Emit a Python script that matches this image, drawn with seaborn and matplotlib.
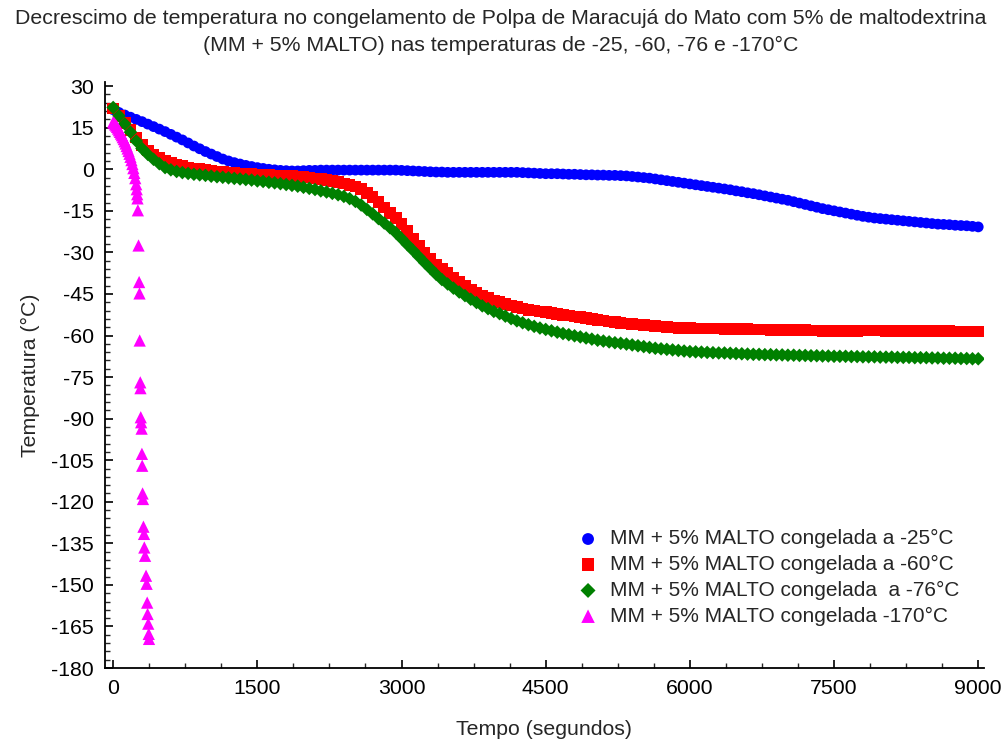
import numpy as np
import pandas as pd
import matplotlib
matplotlib.use("Agg")
import matplotlib.pyplot as plt
from matplotlib.ticker import MultipleLocator
import seaborn as sns

# ---------------- data ----------------
tempo = list(range(0, 9001, 60))

temp_25 = [21.5, 20.5, 19.6, 18.8, 18.0, 17.2, 16.3, 15.4, 14.5, 13.6,
           12.6, 11.6, 10.6, 9.5, 8.4, 7.4, 6.4, 5.5, 4.6, 3.7,
           3.0, 2.4, 1.9, 1.4, 1.0, 0.6, 0.3, 0.0, -0.2, -0.4,
           -0.5, -0.6, -0.6, -0.5, -0.4, -0.4, -0.3, -0.3, -0.3, -0.3,
           -0.3, -0.3, -0.3, -0.3, -0.3, -0.3, -0.3, -0.3, -0.3, -0.3,
           -0.4, -0.5, -0.6, -0.7, -0.8, -0.9, -1.0, -1.0, -1.1, -1.1,
           -1.1, -1.1, -1.1, -1.1, -1.1, -1.1, -1.1, -1.1, -1.1, -1.1,
           -1.1, -1.2, -1.3, -1.4, -1.5, -1.6, -1.6, -1.6, -1.7, -1.8,
           -1.8, -1.9, -2.0, -2.0, -2.1, -2.1, -2.2, -2.2, -2.3, -2.4,
           -2.6, -2.8, -3.0, -3.2, -3.5, -3.8, -4.1, -4.4, -4.7, -5.0,
           -5.3, -5.6, -5.9, -6.2, -6.5, -6.8, -7.1, -7.4, -7.8, -8.1,
           -8.5, -8.8, -9.2, -9.6, -10.0, -10.4, -10.8, -11.2, -11.7, -12.2,
           -12.7, -13.2, -13.7, -14.2, -14.6, -15.0, -15.4, -15.8, -16.2, -16.6,
           -17.0, -17.3, -17.6, -17.8, -18.0, -18.2, -18.4, -18.6, -18.8, -19.0,
           -19.2, -19.4, -19.6, -19.8, -19.9, -20.0, -20.2, -20.3, -20.4, -20.6,
           -20.8]

temp_60 = [21.9, 19.2, 16.6, 14.1, 11.5, 8.7, 6.8, 5.3, 4.0, 3.0,
           2.2, 1.6, 1.1, 0.7, 0.3, 0.0, -0.3, -0.6, -0.8, -1.0,
           -1.2, -1.3, -1.5, -1.6, -1.8, -1.9, -2.0, -2.1, -2.2, -2.3,
           -2.4, -2.5, -2.7, -2.8, -3.0, -3.3, -3.6, -3.9, -4.3, -4.7,
           -5.1, -5.6, -6.2, -7.2, -8.5, -10.1, -11.9, -13.8, -15.7, -17.6,
           -19.8, -22.3, -25.0, -27.6, -30.0, -32.2, -34.3, -36.0, -37.5, -39.0,
           -40.6, -42.1, -43.4, -44.6, -45.6, -46.5, -47.3, -48.0, -48.6, -49.2,
           -49.8, -50.3, -50.7, -51.0, -51.3, -51.6, -51.9, -52.2, -52.5, -52.8,
           -53.1, -53.4, -53.7, -54.0, -54.3, -54.6, -54.9, -55.2, -55.4, -55.6,
           -55.8, -56.0, -56.2, -56.4, -56.6, -56.8, -57.0, -57.1, -57.2, -57.3,
           -57.3, -57.4, -57.4, -57.5, -57.5, -57.5, -57.6, -57.6, -57.6, -57.7,
           -57.7, -57.8, -57.8, -57.8, -57.9, -57.9, -57.9, -58.0, -58.0, -58.1,
           -58.1, -58.2, -58.2, -58.3, -58.3, -58.3, -58.3, -58.3, -58.3, -58.3,
           -58.2, -58.2, -58.2, -58.2, -58.3, -58.3, -58.3, -58.3, -58.3, -58.3,
           -58.4, -58.4, -58.4, -58.4, -58.4, -58.4, -58.5, -58.5, -58.5, -58.5,
           -58.6]

temp_76 = [22.3, 19.3, 16.4, 13.4, 10.2, 7.5, 5.4, 3.6, 2.0, 0.6,
           -0.2, -0.8, -1.2, -1.5, -1.8, -2.0, -2.2, -2.5, -2.7, -2.9,
           -3.1, -3.3, -3.5, -3.7, -3.9, -4.2, -4.4, -4.7, -4.9, -5.2,
           -5.5, -5.8, -6.1, -6.5, -6.9, -7.3, -7.8, -8.2, -8.7, -9.2,
           -9.8, -10.6, -11.6, -12.9, -14.5, -16.1, -17.8, -19.4, -21.1, -22.9,
           -25.0, -27.2, -29.3, -31.5, -33.7, -35.8, -37.9, -39.8, -41.4, -42.9,
           -44.3, -45.6, -46.9, -48.1, -49.3, -50.3, -51.3, -52.1, -53.0, -53.9,
           -54.7, -55.4, -56.1, -56.7, -57.3, -57.8, -58.3, -58.8, -59.3, -59.7,
           -60.1, -60.5, -60.9, -61.3, -61.7, -62.0, -62.3, -62.6, -62.8, -63.1,
           -63.4, -63.7, -64.0, -64.3, -64.6, -64.8, -65.0, -65.2, -65.4, -65.6,
           -65.8, -65.9, -66.0, -66.1, -66.2, -66.3, -66.3, -66.4, -66.5, -66.6,
           -66.7, -66.8, -66.8, -66.9, -66.9, -67.0, -67.0, -67.1, -67.1, -67.2,
           -67.2, -67.3, -67.3, -67.4, -67.4, -67.5, -67.5, -67.5, -67.6, -67.6,
           -67.7, -67.7, -67.7, -67.8, -67.8, -67.8, -67.9, -67.9, -67.9, -68.0,
           -68.0, -68.0, -68.1, -68.1, -68.2, -68.2, -68.2, -68.3, -68.3, -68.4,
           -68.4]

tempo_170 = [0, 10, 20, 30, 40, 50, 60, 70, 80, 90,
             100, 110, 120, 130, 140, 150, 160, 170, 180, 190,
             200, 210, 220, 230, 240, 245, 250, 253,
             257, 264, 270, 274, 276, 282, 284, 287, 291, 296,
             299, 302, 306, 310, 315, 321, 324, 332, 342, 348,
             354, 358, 365, 370, 373]
temp_170 = [17.0, 16.7, 16.2, 15.8, 15.3, 14.7, 14.1, 13.5, 12.9, 12.3,
            11.6, 10.9, 10.1, 9.3, 8.4, 7.5, 6.6, 5.6, 4.5, 3.3,
            1.9, 0.4, -1.3, -3.2, -5.4, -7.2, -9.0, -10.5,
            -14.8, -27.5, -40.7, -44.8, -61.8, -76.9, -79.0, -89.5, -91.3, -93.6,
            -102.7, -107.0, -117.0, -119.0, -129.0, -131.6, -136.5, -139.5, -146.7, -149.6,
            -156.4, -160.5, -164.0, -167.7, -169.5]

labels = ["MM + 5% MALTO congelada a -25°C",
          "MM + 5% MALTO congelada a -60°C",
          "MM + 5% MALTO congelada  a -76°C",
          "MM + 5% MALTO congelada -170°C"]
colors = ["#0000FF", "#FF0000", "#008000", "#FF00FF"]
markers = ["o", "s", "D", "^"]
x_ticks = [0, 1500, 3000, 4500, 6000, 7500, 9000]
y_ticks = list(range(-180, 31, 15))

# ---------------- plot ----------------
sns.set_style("ticks")
plt.rcParams["font.family"] = ["Liberation Sans", "DejaVu Sans"]
plt.rcParams["axes.unicode_minus"] = False

FS = 15.3
fig = plt.figure(figsize=(10.01, 7.42), dpi=100)
ax = fig.add_axes([105 / 1001, 1 - 668 / 742, (984 - 105) / 1001, (668 - 82) / 742])

series = [(tempo, temp_25), (tempo, temp_60), (tempo, temp_76), (tempo_170, temp_170)]
sizes = [60, 70, 48, 78]
for (tx, ty), lab, col, mk, sz in zip(series, labels, colors, markers, sizes):
    df = pd.DataFrame({"Tempo": tx, "Temp": ty})
    sns.scatterplot(data=df, x="Tempo", y="Temp", ax=ax, color=col, marker=mk,
                    s=sz, edgecolor="none", linewidth=0, label=lab, zorder=3)

ax.set_xlim(-85, 9060)
ax.set_ylim(-180, 31.5)
ax.set_xticks(x_ticks)
ax.set_yticks(y_ticks)
ax.xaxis.set_minor_locator(MultipleLocator(375))
ax.yaxis.set_minor_locator(MultipleLocator(3))
ax.tick_params(axis="both", which="major", direction="in", length=6, width=1.2,
               labelsize=FS, colors="black", pad=8)
ax.tick_params(axis="both", which="minor", direction="in", length=3.5, width=1.0)
for sp in ["top", "right"]:
    ax.spines[sp].set_visible(False)
for sp in ["left", "bottom"]:
    ax.spines[sp].set_linewidth(1.3)
    ax.spines[sp].set_color("black")

ax.set_xlabel("Tempo (segundos)", fontsize=FS, labelpad=16)
ax.set_ylabel("Temperatura (°C)", fontsize=FS, labelpad=8)

fig.text(0.5, 1 - 18 / 742, "Decrescimo de temperatura no congelamento de Polpa de Maracujá do Mato com 5% de maltodextrina",
         ha="center", va="center", fontsize=FS)
fig.text(0.5, 1 - 45 / 742, "(MM + 5% MALTO) nas temperaturas de -25, -60, -76 e -170°C",
         ha="center", va="center", fontsize=FS)

leg = ax.legend(loc="upper left", bbox_to_anchor=(562 / 1001, 1 - 519 / 742),
                bbox_transform=fig.transFigure, frameon=False, fontsize=15,
                handletextpad=0.3, labelspacing=0.32, borderpad=0, handlelength=1.5,
                markerscale=1.1)

fig.savefig("out.png", dpi=100)
